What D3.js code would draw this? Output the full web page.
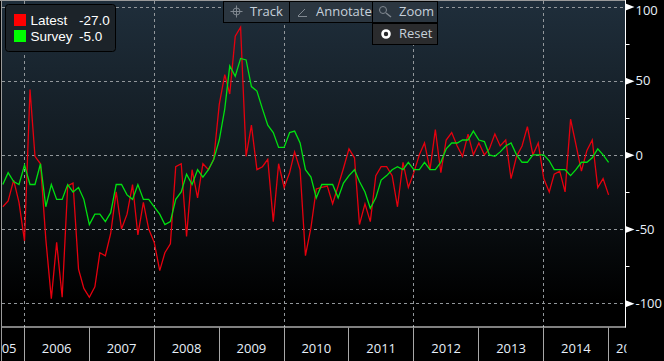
<!DOCTYPE html>
<html>
<head>
<meta charset="utf-8">
<script src="https://cdn.jsdelivr.net/npm/d3@7"></script>
<style>
  html, body { margin: 0; padding: 0; background: #000; }
  svg { display: block; }
  text { font-family: "Open Sans", "Liberation Sans", sans-serif; }
</style>
</head>
<body>
<div id="chart"></div>
<script>
"use strict";

/* Monthly readings, the first one is Sep 2005 */
const firstMonth = new Date(2005, 8, 1);
const latestValues = [
  -35, -31, -17, -32, -58, 44, -1, -6, -57, -97, -59, -96, -21, -19, -77, -90,
  -96, -89, -66, -68, -53, -25, -50, -40, -20, -54, -32, -50, -59, -78, -66, -60,
  -8, -6, -55, -10, -29, -6, -10, -3, 34, 54, 41, 80, 86, -1, 20, -10,
  -8, -3, -45, -6, -22, -12, 2, -10, -68, -49, -23, -22, -21, -33, -21, -9,
  4, -2, -47, -33, -45, -14, -8, -8, -14, -35, -5, -22, -12, 0, 8, -10,
  17, -12, 10, 15, 6, -1, 14, 0, 8, 0, 4, 14, 6, 10, -16, -1,
  6, 19, 0, 8, -16, -25, -13, -11, -25, 24, 7, -11, 3, 10, -22, -16, -27
];
const surveyValues = [
  -20, -12, -18, -20, -7, -20, -20, -6, -35, -20, -30, -30, -20, -25, -22, -30,
  -47, -40, -40, -45, -39, -20, -20, -27, -30, -20, -30, -30, -35, -40, -47, -45,
  -30, -25, -13, -20, -10, -15, -10, -3, 10, 31, 60, 53, 65, 64, 46, 43,
  31, 20, 15, 5, 5, 15, 16, 8, -10, -15, -29, -20, -20, -20, -29, -19,
  -14, -10, -18, -25, -36, -29, -17, -14, -10, -8, -10, -5, -10, -10, -5, -10,
  -10, -5, 4, 8, 8, 10, 10, 16, 10, 9, 0, -1, 2, 6, 8, 0,
  -5, -5, 0, 0, 0, -4, -10, -10, -10, -14, -10, -5, -5, -2, 4, 0, -5
];
const yearTicks = [2006, 2007, 2008, 2009, 2010, 2011, 2012, 2013, 2014, 2015];
const yearLabels = ["2006", "2007", "2008", "2009", "2010", "2011", "2012", "2013", "2014"];
const gridYears = [2006, 2008, 2010, 2012, 2014];
const valueTicks = [100, 50, 0, -50, -100];
const minorTicks = [75, 25, -25, -75];
const legendNames = ["Latest", "Survey"];
const legendValues = ["-27.0", "-5.0"];
const legendColors = ["#ff0000", "#00ff00"];
const toolNames = ["Track", "Annotate", "Zoom"];

const width = 664, height = 361,
    plot = {left: 2, top: 1, right: 625.5, bottom: 327};

const svg = d3.select("#chart").append("svg")
    .attr("width", width)
    .attr("height", height);

const xScale = d3.scaleTime()
    .domain([new Date(2006, 0, 1), new Date(2015, 0, 1)])
    .range([24.5, 608.6]);
const yScale = d3.scaleLinear()
    .domain([100, -100])
    .range([6.5, 303.2]);

/* Plot background */
const gradient = svg.append("defs").append("linearGradient")
    .attr("id", "plotFill")
    .attr("x1", 0).attr("x2", 0).attr("y1", 0).attr("y2", 1);
gradient.append("stop").attr("offset", "0%").attr("stop-color", "#1f2e3b");
gradient.append("stop").attr("offset", "48%").attr("stop-color", "#11191f");
gradient.append("stop").attr("offset", "92%").attr("stop-color", "#000000");

svg.append("clipPath").attr("id", "plotClip").append("rect")
    .attr("x", plot.left).attr("y", plot.top)
    .attr("width", plot.right - plot.left).attr("height", plot.bottom - plot.top);
svg.append("clipPath").attr("id", "labelClip").append("rect")
    .attr("x", plot.left).attr("y", plot.bottom)
    .attr("width", plot.right - plot.left + 1).attr("height", height - plot.bottom);

svg.append("rect")
    .attr("x", plot.left).attr("y", plot.top)
    .attr("width", plot.right - plot.left).attr("height", plot.bottom - plot.top)
    .attr("fill", "url(#plotFill)");

/* Dashed grid */
svg.append("g").selectAll("line")
    .data(valueTicks)
    .enter().append("line")
    .attr("x1", plot.left).attr("x2", plot.right)
    .attr("y1", d => Math.round(yScale(d)) + 0.5)
    .attr("y2", d => Math.round(yScale(d)) + 0.5)
    .attr("stroke", "#92979b")
    .attr("stroke-dasharray", "3,3");
svg.append("g").selectAll("line")
    .data(gridYears)
    .enter().append("line")
    .attr("x1", d => Math.floor(xScale(new Date(d, 0, 1))) + 0.5)
    .attr("x2", d => Math.floor(xScale(new Date(d, 0, 1))) + 0.5)
    .attr("y1", plot.top).attr("y2", plot.bottom)
    .attr("stroke", "#92979b")
    .attr("stroke-dasharray", "3,3");

/* Series */
function monthOf(i) { return d3.timeMonth.offset(firstMonth, i); }
const line = d3.line()
    .x((d, i) => xScale(monthOf(i)))
    .y(d => yScale(d));
const seriesLayer = svg.append("g").attr("clip-path", "url(#plotClip)");
seriesLayer.append("path")
    .attr("d", line(latestValues))
    .attr("fill", "none")
    .attr("stroke", "#e6000e")
    .attr("stroke-width", 1.3);
seriesLayer.append("path")
    .attr("d", line(surveyValues))
    .attr("fill", "none")
    .attr("stroke", "#00e010")
    .attr("stroke-width", 1.3);

/* Frame */
svg.append("line")
    .attr("x1", 1.5).attr("x2", 1.5).attr("y1", 0).attr("y2", height)
    .attr("stroke", "#9a9a9a");
svg.append("line")
    .attr("x1", 0).attr("x2", plot.right).attr("y1", 0.5).attr("y2", 0.5)
    .attr("stroke", "#9a9a9a");
svg.append("line")
    .attr("x1", plot.right).attr("x2", plot.right).attr("y1", 0).attr("y2", plot.bottom + 0.5)
    .attr("stroke", "#ffffff");
svg.append("line")
    .attr("x1", plot.left).attr("x2", plot.right + 0.5).attr("y1", plot.bottom).attr("y2", plot.bottom)
    .attr("stroke", "#ffffff");

/* Time axis */
svg.append("g").selectAll("line")
    .data(yearTicks)
    .enter().append("line")
    .attr("x1", d => Math.floor(xScale(new Date(d, 0, 1))) + 0.5)
    .attr("x2", d => Math.floor(xScale(new Date(d, 0, 1))) + 0.5)
    .attr("y1", plot.bottom + 0.5).attr("y2", height)
    .attr("stroke", "#a8a8a8");

const labelColor = "#e8f0fa", labelSize = "13px", labelY = 353;
svg.append("g").selectAll("text")
    .data(yearLabels)
    .enter().append("text")
    .attr("x", d => xScale(new Date(+d, 6, 1)))
    .attr("y", labelY)
    .attr("text-anchor", "middle")
    .attr("fill", labelColor)
    .style("font-size", labelSize)
    .text(d => d);
/* cut off years at both ends */
const edgeLabels = svg.append("g").attr("clip-path", "url(#labelClip)");
edgeLabels.append("text")
    .attr("x", xScale(new Date(2006, 0, 1)) - 8)
    .attr("y", labelY)
    .attr("text-anchor", "end")
    .attr("fill", labelColor)
    .style("font-size", labelSize)
    .text("05");
edgeLabels.append("text")
    .attr("x", xScale(new Date(2015, 0, 1)) + 7.5)
    .attr("y", labelY)
    .attr("fill", labelColor)
    .style("font-size", labelSize)
    .text("20");

/* Value axis */
const yAxis = svg.append("g")
    .attr("transform", "translate(" + plot.right + ",0)")
    .call(d3.axisRight(yScale).tickValues(valueTicks).tickSize(0).tickPadding(10)
      .tickFormat(d => d));
yAxis.select(".domain").remove();
yAxis.selectAll("text")
    .attr("fill", labelColor)
    .style("font-size", labelSize)
    .style("font-family", "\"Open Sans\", \"Liberation Sans\", sans-serif");
/* top label sits a bit lower so it stays inside the window */
yAxis.selectAll(".tick text").filter(d => d === 100)
    .attr("dy", "0.62em");
yAxis.selectAll(".tick").append("path")
    .attr("d", "M0,-3.5L9,0L0,3.5Z")
    .attr("fill", "#ffffff");
svg.append("g").selectAll("line")
    .data(minorTicks)
    .enter().append("line")
    .attr("x1", plot.right).attr("x2", plot.right + 4)
    .attr("y1", d => Math.round(yScale(d)) + 0.5)
    .attr("y2", d => Math.round(yScale(d)) + 0.5)
    .attr("stroke", "#ffffff");

/* Legend box */
svg.append("rect")
    .attr("x", 5.5).attr("y", 4.5)
    .attr("width", 110).attr("height", 47)
    .attr("rx", 3)
    .attr("fill", "#1c2329")
    .attr("stroke", "#000000");
const legendRow = svg.append("g").selectAll("g")
    .data(legendNames)
    .enter().append("g")
    .attr("transform", (d, i) => "translate(14," + (14 + i * 16) + ")");
legendRow.append("rect")
    .attr("width", 12).attr("height", 12)
    .attr("fill", (d, i) => legendColors[i]);
legendRow.append("text")
    .attr("x", 16.5).attr("y", 11)
    .attr("fill", "#ffffff")
    .style("font-family", "\"Liberation Sans\", sans-serif")
    .style("font-size", "13.5px")
    .text(d => d);
legendRow.append("text")
    .attr("x", 65).attr("y", 11)
    .attr("fill", "#ffffff")
    .style("font-family", "\"Liberation Sans\", sans-serif")
    .style("font-size", "13.5px")
    .text((d, i) => legendValues[i]);

/* Toolbar */
const toolX = [223.5, 289.5, 372.5, 437.5];
const toolbar = svg.append("g").selectAll("g")
    .data(toolNames)
    .enter().append("g");
toolbar.append("rect")
    .attr("x", (d, i) => toolX[i]).attr("y", 1.5)
    .attr("width", (d, i) => toolX[i + 1] - toolX[i]).attr("height", 21)
    .attr("fill", "#2b3640")
    .attr("stroke", "#000000");
toolbar.append("text")
    .attr("x", (d, i) => [250, 316, 399][i]).attr("y", 16)
    .attr("fill", "#c6d0da")
    .style("font-size", labelSize)
    .text(d => d);

/* Toolbar icons */
const iconStroke = "#808890";
const track = svg.append("g").attr("transform", "translate(236.5,11.5)")
    .attr("fill", "none").attr("stroke", iconStroke);
track.append("circle").attr("r", 3.5);
track.append("path").attr("d", "M-6,0H6M0,-6V6");
svg.append("path")
    .attr("d", "M298,16L305,9M298,16.5H307")
    .attr("fill", "none").attr("stroke", iconStroke);
const lens = svg.append("g").attr("transform", "translate(383,10)")
    .attr("fill", "none").attr("stroke", iconStroke);
lens.append("circle").attr("r", 3.5);
lens.append("path").attr("d", "M3,3L8,7").attr("stroke-width", 1.5);

/* Reset button */
svg.append("rect")
    .attr("x", 372.5).attr("y", 23.5)
    .attr("width", 65).attr("height", 21)
    .attr("fill", "#2a2b2d")
    .attr("stroke", "#000000");
svg.append("circle")
    .attr("cx", 386).attr("cy", 34).attr("r", 3.5)
    .attr("fill", "#2a2b2d")
    .attr("stroke", "#ffffff")
    .attr("stroke-width", 2.6);
svg.append("text")
    .attr("x", 399).attr("y", 38)
    .attr("fill", "#c6d0da")
    .style("font-size", labelSize)
    .text("Reset");
</script>
</body>
</html>
